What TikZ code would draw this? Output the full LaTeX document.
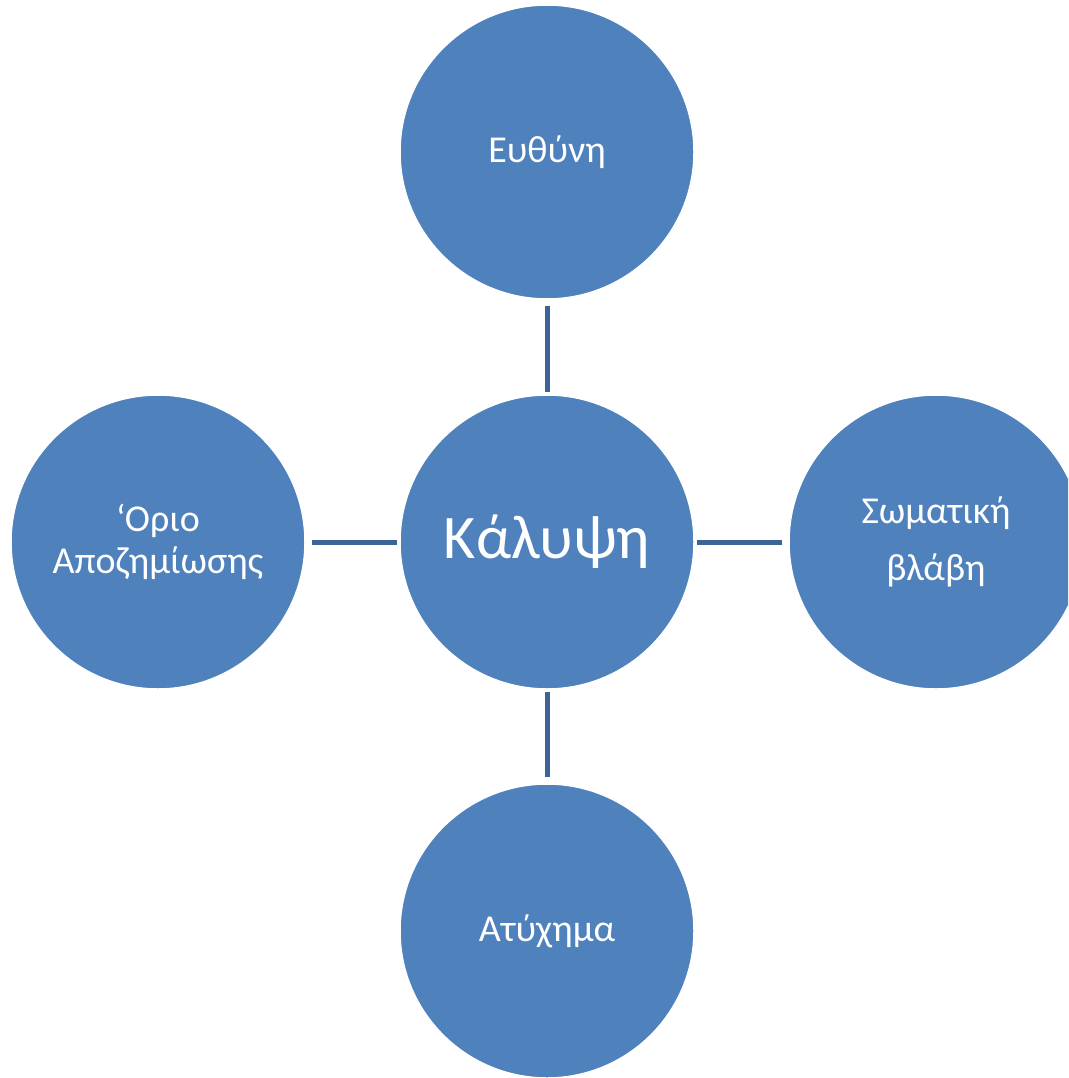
\documentclass[tikz,border=0pt]{standalone}
\usepackage{fontspec}
\setmainfont{Carlito}
\usepackage{xcolor}
\definecolor{circfill}{RGB}{79,129,189}
\definecolor{linkcol}{RGB}{60,100,150}
\begin{document}
\begin{tikzpicture}[x=1pt,y=-1pt,
    circ/.style={circle,fill=circfill,draw=white,line width=1.5pt,minimum size=294pt,inner sep=0pt,text=white,align=center,font=\fontsize{38}{42}\selectfont},
    link/.style={draw=linkcol,line width=5pt,shorten <=6pt,shorten >=2.5pt}]
    \useasboundingbox (0,0) rectangle (1068,1078);
    \clip (0,0) rectangle (1068,1078);

    % Circles
    \node [circ,font=\fontsize{62}{64}\selectfont] (cover) at (547,542) {Κάλυψη};
    \node [circ] (liab) at (547,152) {Ευθύνη};
    \node [circ] (acc) at (547,931) {Ατύχημα};
    \node [circ] (limit) at (158,542) {‘Οριο\\Αποζημίωσης};
    \node [circ,font=\fontsize{38}{57}\selectfont] (injury) at (936,542) {Σωματική\\ βλάβη};

    % Connectors
    \draw [link] (liab.south) -- (cover.north);
    \draw [link] (acc.north) -- (cover.south);
    \draw [link] (limit.east) -- (cover.west);
    \draw [link] (injury.west) -- (cover.east);
\end{tikzpicture}
\end{document}
